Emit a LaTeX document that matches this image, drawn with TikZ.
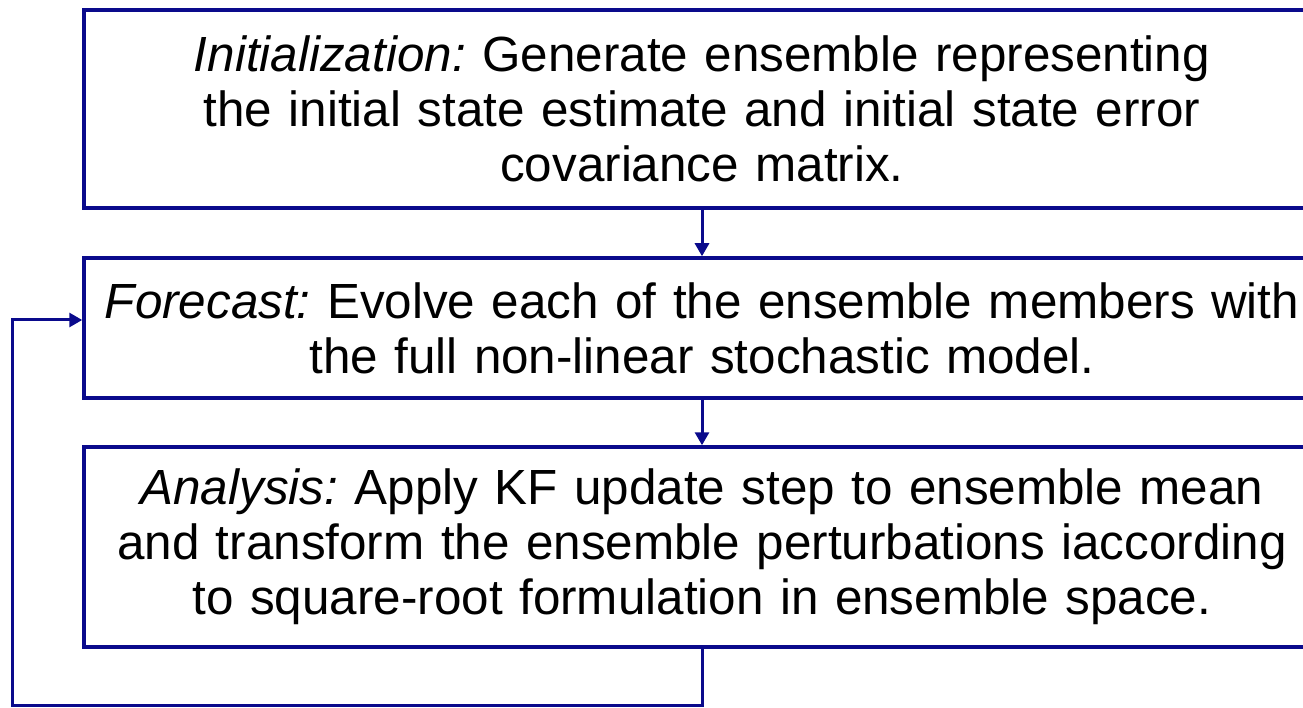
\documentclass[tikz,border=0pt]{standalone}
\usepackage{fontspec}
\setmainfont{Liberation Sans}
\usetikzlibrary{arrows.meta}
\definecolor{flowblue}{RGB}{10,10,140}
\tikzset{
  stage/.style={draw=flowblue, line width=3.5pt, minimum width=1236pt,
    text width=1220pt, align=center, inner sep=0pt,
    font=\fontsize{49.4}{55}\selectfont\frenchspacing},
  flow/.style={draw=flowblue, line width=3pt,
    -{Triangle[length=13pt,width=14pt]}},
}
\newcommand{\steplabel}[1]{{\itshape #1}}
\begin{document}
\begin{tikzpicture}[x=1pt,y=1pt]
\useasboundingbox (0,0) rectangle (1303,-708);
\clip (0,0) rectangle (1303,-708);
\node[stage, minimum height=198pt] (init) at (702,-109)
  {\steplabel{Initialization:} Generate ensemble representing\\
   the initial state estimate and initial state error\\
   covariance matrix.};
\node[stage, minimum height=140pt] (fore) at (702,-328)
  {\steplabel{Forecast:} Evolve each of the ensemble members with\\
   the full non-linear stochastic model.};
\node[stage, minimum height=200pt] (ana) at (702,-547)
  {\steplabel{Analysis:} Apply KF update step to ensemble mean\\
   and transform the ensemble perturbations iaccording\\
   to square-root formulation in ensemble space.};
\coordinate (loopB) at (702,-705);
\coordinate (loopL) at (12,-705);
\coordinate (loopT) at (12,-320);
\draw[flow] (init.south) -- (fore.north);
\draw[flow] (fore.south) -- (ana.north);
\draw[flow] (ana.south) -- (loopB) -- (loopL) -- (loopT) -- (fore.west |- loopT);
\end{tikzpicture}
\end{document}
